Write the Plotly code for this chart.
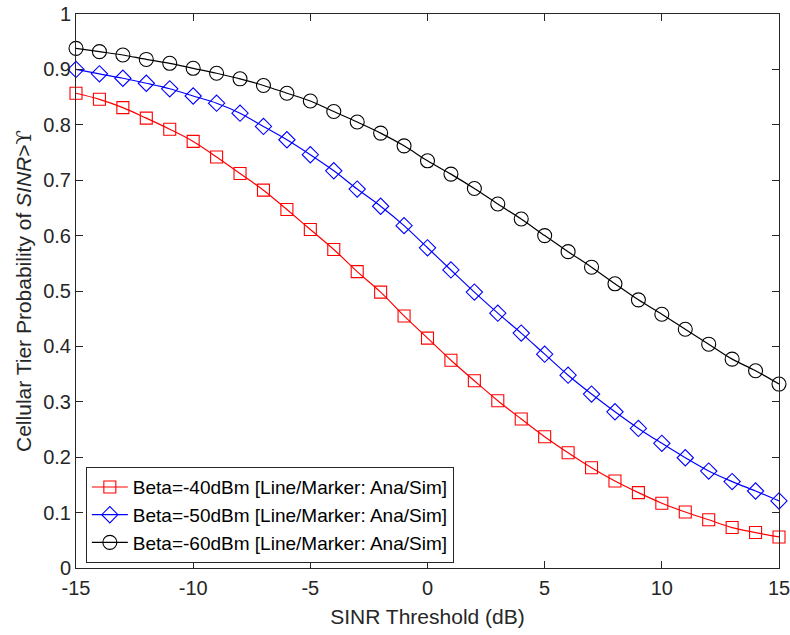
import plotly.graph_objects as go

x_vals = list(range(-15, 16))

beta40 = [0.857, 0.846, 0.831, 0.812, 0.792, 0.770, 0.742, 0.712, 0.682, 0.647,
          0.611, 0.575, 0.535, 0.498, 0.455, 0.415, 0.375, 0.338, 0.302, 0.269,
          0.237, 0.208, 0.181, 0.157, 0.136, 0.117, 0.101, 0.087, 0.073, 0.064, 0.056]
beta50 = [0.900, 0.892, 0.884, 0.875, 0.865, 0.852, 0.839, 0.821, 0.797, 0.773,
          0.746, 0.717, 0.684, 0.653, 0.618, 0.578, 0.538, 0.498, 0.460, 0.424,
          0.386, 0.348, 0.314, 0.282, 0.252, 0.225, 0.199, 0.175, 0.156, 0.139, 0.121]
beta60 = [0.938, 0.932, 0.926, 0.918, 0.911, 0.902, 0.893, 0.883, 0.871, 0.857,
          0.843, 0.824, 0.805, 0.785, 0.762, 0.735, 0.711, 0.685, 0.657, 0.630,
          0.600, 0.571, 0.543, 0.513, 0.484, 0.458, 0.431, 0.404, 0.377, 0.356, 0.332]

names = ["Beta=-40dBm [Line/Marker: Ana/Sim]",
         "Beta=-50dBm [Line/Marker: Ana/Sim]",
         "Beta=-60dBm [Line/Marker: Ana/Sim]"]
colors = ["#ff0000", "#0000ff", "#000000"]
symbols = ["square-open", "diamond-open", "circle-open"]
sizes = [12, 12.5, 14]

x_ticks = [-15, -10, -5, 0, 5, 10, 15]
x_ticktext = ["-15", "-10", "-5", "0", "5", "10", "15"]
y_ticks = [0, 0.1, 0.2, 0.3, 0.4, 0.5, 0.6, 0.7, 0.8, 0.9, 1]
y_ticktext = ["0", "0.1", "0.2", "0.3", "0.4", "0.5", "0.6", "0.7", "0.8", "0.9", "1"]

fig = go.Figure()
for ys, nm, c, s, sz in zip([beta40, beta50, beta60], names, colors, symbols, sizes):
    fig.add_trace(go.Scatter(
        x=x_vals, y=ys, name=nm, mode="lines+markers", cliponaxis=False,
        line=dict(color=c, width=1.2, shape="spline"),
        marker=dict(symbol=s, size=sz, color=c, line=dict(color=c, width=1.1)),
    ))

FONT = "Arial, Liberation Sans, sans-serif"
axis_common = dict(
    showline=True, linecolor="#262626", linewidth=1, mirror="ticks",
    ticks="inside", ticklen=7, tickcolor="#262626", tickwidth=1,
    showgrid=False, zeroline=False, automargin=False,
    ticklabeloverflow="allow",
    tickfont=dict(family=FONT, size=20, color="#262626"),
)

fig.update_layout(
    width=790, height=635,
    margin=dict(l=76, r=11, t=14, b=67),
    paper_bgcolor="white", plot_bgcolor="white",
    font=dict(family=FONT, color="#262626"),
    xaxis=dict(range=[-15, 15], tickvals=x_ticks, ticktext=x_ticktext,
               ticklabelstandoff=2,
               title=dict(text="SINR Threshold (dB)", font=dict(size=21, color="#262626"), standoff=11),
               **axis_common),
    yaxis=dict(range=[0, 1], tickvals=y_ticks, ticktext=y_ticktext,
               ticklabelstandoff=0,
               title=dict(text="Cellular Tier Probability of <i>SINR</i>><span style=\"font-family:'DejaVu Serif'\">ϒ</span>",
                          font=dict(size=21, color="#262626"), standoff=5),
               **axis_common),
    legend=dict(x=0.014, y=0.182, xanchor="left", yanchor="top",
                bgcolor="white", bordercolor="#262626", borderwidth=1,
                font=dict(family=FONT, size=19, color="#000000"),
                itemwidth=36, tracegroupgap=0),
    showlegend=True,
)

fig.write_html("out.html")
